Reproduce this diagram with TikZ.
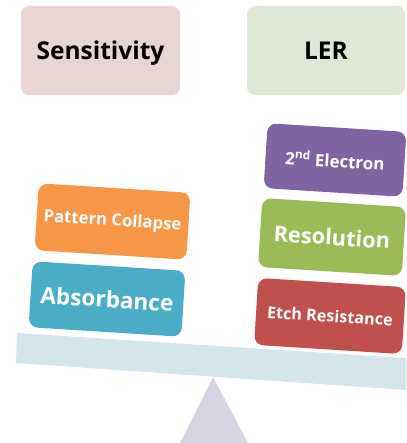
\documentclass[tikz,border=0pt]{standalone}
\usepackage{fontspec}
\setmainfont{Open Sans}
\begin{document}
\begin{tikzpicture}[x=1pt,y=-1pt,
  topbox/.style={fill=#1, rounded corners=8pt, inner sep=0pt, text=black,
    text depth=0pt, font=\bfseries\fontsize{24.5}{26}\selectfont},
  weight/.style={fill=#1, rounded corners=9pt, inner sep=0pt, text=white,
    rotate=-3.6, font=\bfseries},
  ]
\definecolor{sensbg}{HTML}{EAD5D5}
\definecolor{lerbg}{HTML}{DFE7D5}
\definecolor{beamc}{HTML}{D5E5EC}
\definecolor{pivotc}{HTML}{D9D4E3}
\definecolor{orangew}{HTML}{F79646}
\definecolor{tealw}{HTML}{4BACC6}
\definecolor{purplew}{HTML}{8064A2}
\definecolor{greenw}{HTML}{9BBB59}
\definecolor{redw}{HTML}{C0504D}
\useasboundingbox (0,0) rectangle (406,443);
\clip (0,0) rectangle (406,443);

% category headers
\node[topbox=sensbg, minimum width=159pt, minimum height=89pt] (sens) at (100.5,50.5) {Sensitivity};
\node[topbox=lerbg, minimum width=158pt, minimum height=89pt] (ler) at (326,50.5) {LER};

% pivot and beam
\fill[pivotc] (213,377) -- (248,443) -- (180,443) -- cycle;
\fill[beamc] (17,333) -- (420,359) -- (420,391) -- (16,363) -- cycle;

% left pan
\node[weight=orangew, minimum width=152pt, minimum height=67pt,
  font=\bfseries\fontsize{16.7}{18}\selectfont] (pc) at (112.5,221.5) {Pattern Collapse};
\node[weight=tealw, minimum width=153pt, minimum height=66pt,
  font=\bfseries\fontsize{22.6}{24}\selectfont] (abs) at (107,299) {Absorbance};

% right pan
\node[weight=purplew, minimum width=139pt, minimum height=65pt,
  font=\bfseries\fontsize{16.9}{18}\selectfont] (sec) at (335,160) {2\textsuperscript{nd} Electron};
\node[weight=greenw, minimum width=144pt, minimum height=69pt,
  font=\bfseries\fontsize{21.8}{23}\selectfont] (res) at (332,237) {Resolution};
\node[weight=redw, minimum width=148pt, minimum height=67pt,
  font=\bfseries\fontsize{16.2}{18}\selectfont] (etch) at (330,316) {Etch Resistance};
\end{tikzpicture}
\end{document}
